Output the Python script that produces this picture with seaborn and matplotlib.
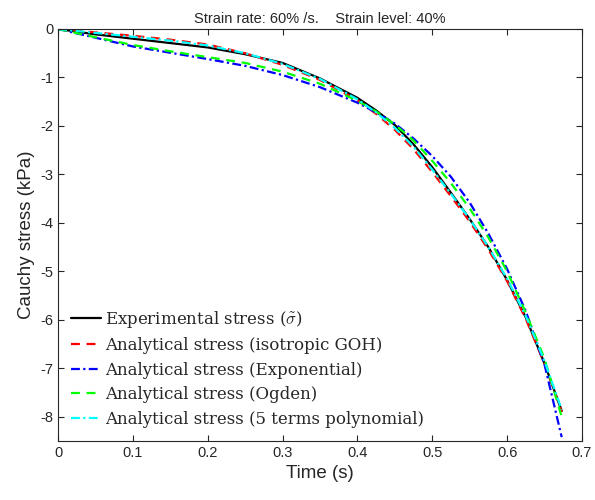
import numpy as np
import pandas as pd
import matplotlib
matplotlib.use("Agg")
import matplotlib.pyplot as plt
import seaborn as sns

# values (time in s, stress in kPa)
time = [0, 0.05, 0.1, 0.15, 0.2, 0.25, 0.3, 0.35, 0.4, 0.425, 0.45, 0.475,
        0.5, 0.525, 0.55, 0.575, 0.6, 0.625, 0.65, 0.673]
experimental = [0, -0.11, -0.2, -0.29, -0.38, -0.52, -0.7, -1.02, -1.42, -1.68, -1.98, -2.38,
                -2.85, -3.38, -3.92, -4.5, -5.18, -5.95, -6.9, -7.88]
goh = [0, -0.07, -0.14, -0.22, -0.32, -0.5, -0.74, -1.05, -1.47, -1.75, -2.08, -2.48,
       -2.95, -3.45, -3.97, -4.55, -5.2, -5.98, -6.9, -7.9]
exponential = [0, -0.18, -0.36, -0.49, -0.62, -0.76, -0.95, -1.2, -1.52, -1.72, -1.95, -2.26,
               -2.62, -3.05, -3.58, -4.22, -4.95, -5.82, -6.92, -8.42]
ogden = [0, -0.17, -0.33, -0.46, -0.58, -0.7, -0.88, -1.13, -1.48, -1.7, -1.97, -2.3,
         -2.72, -3.18, -3.7, -4.3, -5.0, -5.85, -6.8, -8.0]
poly5 = [0, -0.08, -0.16, -0.24, -0.34, -0.5, -0.72, -1.03, -1.45, -1.72, -2.04, -2.43,
         -2.9, -3.4, -3.92, -4.5, -5.15, -5.92, -6.85, -7.85]

labels = [r"Experimental stress ($\tilde{\sigma}$)",
          "Analytical stress (isotropic GOH)",
          "Analytical stress (Exponential)",
          "Analytical stress (Ogden)",
          "Analytical stress (5 terms polynomial)"]
series = [experimental, goh, exponential, ogden, poly5]
colors = ["black", "#ff0000", "#0000ff", "#00ff00", "#00ffff"]
styles = ["-", (0, (4, 3)), (0, (4, 1.5, 1, 1.5)), (0, (4, 3)), (0, (4, 1.5, 1, 1.5))]

sns.set_style("ticks")
plt.rcParams["font.family"] = ["Liberation Sans", "DejaVu Sans"]
plt.rcParams["mathtext.fontset"] = "cm"
plt.rcParams["axes.unicode_minus"] = False

fig = plt.figure(figsize=(5.95, 5.0), dpi=100)
ax = fig.add_axes([0.0975, 0.118, 0.8805, 0.824])

for vals, lab, c, ls in zip(series, labels, colors, styles):
    df = pd.DataFrame({"t": time, "s": vals})
    sns.lineplot(data=df, x="t", y="s", ax=ax, color=c, linestyle=ls, linewidth=1.6, label=lab)

ax.set_xlim(0, 0.7)
ax.set_ylim(-8.5, 0)
ax.set_xticks(np.arange(0, 0.71, 0.1))
ax.set_xticklabels(["0", "0.1", "0.2", "0.3", "0.4", "0.5", "0.6", "0.7"])
ax.set_yticks(range(-8, 1))
ax.tick_params(direction="in", top=True, right=True, labelsize=10.5, length=4, width=0.8, colors="#262626")
for sp in ax.spines.values():
    sp.set_linewidth(0.8)
    sp.set_color("#262626")
    sp.set_visible(True)

ax.set_xlabel("Time (s)", fontsize=13.5)
ax.set_ylabel("Cauchy stress (kPa)", fontsize=13.5)
ax.set_title("Strain rate: 60% /s.    Strain level: 40%", fontsize=10.5, pad=4)

leg = ax.legend(loc="lower left", frameon=False, prop={"family": "DejaVu Serif", "size": 12},
                handlelength=1.75, handletextpad=0.25, labelspacing=0.45, borderaxespad=0.4)

fig.savefig("out.png", dpi=100)
